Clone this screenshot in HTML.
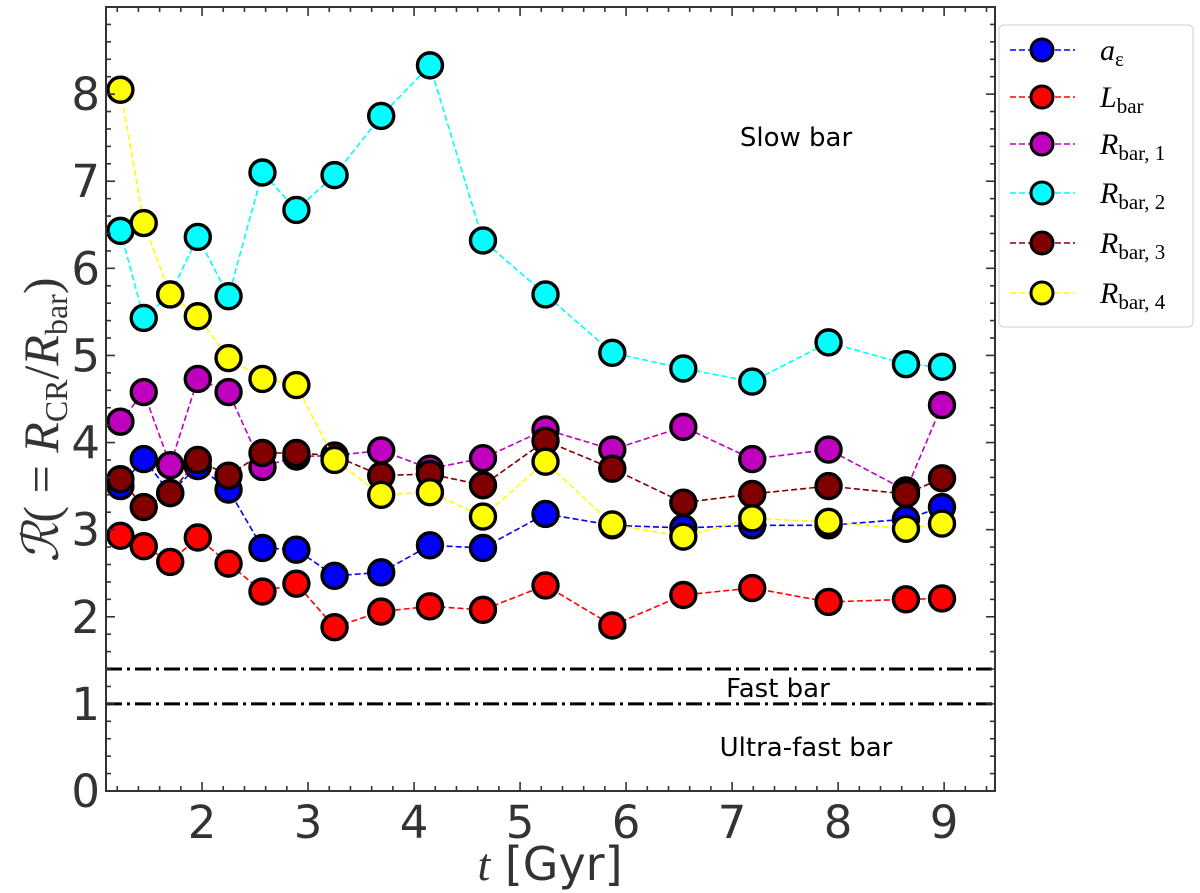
<!DOCTYPE html>
<html><head><meta charset="utf-8"><style>
html,body{margin:0;padding:0;background:#fff;}
svg{display:block;font-family:"DejaVu Sans","Liberation Sans",sans-serif;}
</style></head><body>
<svg id="chart" width="1200" height="893" viewBox="0 0 1200 893" xmlns="http://www.w3.org/2000/svg">
<g id="plot"></g>
<g id="axes"></g>
<g id="legend"></g>
</svg>
<script>
const times = [1.23,1.45,1.70,1.96,2.25,2.57,2.89,3.25,3.69,4.15,4.65,5.24,5.87,6.54,7.19,7.91,8.64,8.98];
const aEps = [3.50,3.81,3.42,3.73,3.46,2.79,2.77,2.47,2.51,2.82,2.79,3.18,3.05,3.02,3.05,3.05,3.12,3.26];
const lBar = [2.93,2.81,2.63,2.91,2.61,2.29,2.38,1.88,2.06,2.12,2.08,2.36,1.90,2.25,2.33,2.17,2.20,2.21];
const rBar1 = [4.24,4.58,3.74,4.73,4.58,3.72,3.84,3.85,3.91,3.70,3.82,4.15,3.92,4.18,3.81,3.92,3.45,4.43];
const rBar2 = [6.43,5.43,5.70,6.36,5.68,7.10,6.67,7.07,7.75,8.33,6.32,5.70,5.03,4.85,4.70,5.15,4.90,4.87];
const rBar3 = [3.58,3.26,3.42,3.80,3.62,3.88,3.88,3.85,3.62,3.64,3.51,4.02,3.70,3.31,3.41,3.50,3.41,3.59];
const rBar4 = [8.05,6.52,5.70,5.45,4.97,4.73,4.66,3.80,3.40,3.43,3.15,3.78,3.06,2.92,3.13,3.09,3.01,3.07];
const xTicks = [2,3,4,5,6,7,8,9];
const yTicks = [0,1,2,3,4,5,6,7,8];
const thresholds = [1.0,1.4];

const NS="http://www.w3.org/2000/svg";
const L=106,R=995,T=7,B=791,XMIN=1.094,XMAX=9.48,YMIN=0,YMAX=9;
const sx=v=>L+(v-XMIN)/(XMAX-XMIN)*(R-L);
const sy=v=>B-(v-YMIN)/(YMAX-YMIN)*(B-T);
function mk(tag,attrs,parent){const e=document.createElementNS(NS,tag);for(const k in attrs)e.setAttribute(k,attrs[k]);parent.appendChild(e);return e;}
const plot=document.getElementById('plot'),axes=document.getElementById('axes'),leg=document.getElementById('legend');

thresholds.forEach(t=>{
  const ln=mk('line',{x1:L,x2:R,y1:sy(t),y2:sy(t),stroke:'#000','stroke-width':3,'stroke-dasharray':'16 5 3 5'},plot);
  
  
});
[['Slow bar',796,146],['Fast bar',778,697],['Ultra-fast bar',806,756]].forEach(a=>{
  const t=mk('text',{x:a[1],y:a[2],'font-size':26,'text-anchor':'middle',fill:'#000'},plot);t.textContent=a[0];
  
  
});

const series=[
 {name:'a-epsilon',vals:aEps,col:'#0000ff'},
 {name:'l-bar',vals:lBar,col:'#ff0000'},
 {name:'r-bar-1',vals:rBar1,col:'#bf00bf'},
 {name:'r-bar-2',vals:rBar2,col:'#00ffff'},
 {name:'r-bar-3',vals:rBar3,col:'#800000'},
 {name:'r-bar-4',vals:rBar4,col:'#ffff00'}];
series.forEach(s=>{
  const g=mk('g',{},plot);
  
  
  const pts=s.vals.map((v,i)=>sx(times[i])+','+sy(v)).join(' ');
  const pl=mk('polyline',{points:pts,fill:'none',stroke:s.col,'stroke-width':1.6,'stroke-dasharray':'6 3'},g);
  
  
  s.vals.forEach((v,i)=>{
    const c=mk('circle',{cx:sx(times[i]),cy:sy(v),r:12.5,fill:s.col,stroke:'#000','stroke-width':3.4},g);
    
    
  });
});

const fr=mk('rect',{x:L,y:T,width:R-L,height:B-T,fill:'none',stroke:'#333','stroke-width':2},axes);


for(let v=1.2;v<=9.41;v+=0.2){
  const major=Math.abs(v-Math.round(v))<1e-6;const len=major?9:5;const x=sx(v);
  mk('line',{x1:x,x2:x,y1:B,y2:B-len,stroke:'#333','stroke-width':1.6},axes);
  mk('line',{x1:x,x2:x,y1:T,y2:T+len,stroke:'#333','stroke-width':1.6},axes);
}
for(let v=0.2;v<=8.81;v+=0.2){
  const major=Math.abs(v-Math.round(v))<1e-6;const len=major?9:5;const y=sy(v);
  mk('line',{x1:L,x2:L+len,y1:y,y2:y,stroke:'#333','stroke-width':1.6},axes);
  mk('line',{x1:R,x2:R-len,y1:y,y2:y,stroke:'#333','stroke-width':1.6},axes);
}
xTicks.forEach(v=>{
  const t=mk('text',{x:sx(v),y:B+47,'font-size':45,'text-anchor':'middle',fill:'#333'},axes);t.textContent=v;
  
  
});
yTicks.forEach(v=>{
  const t=mk('text',{x:L-6,y:sy(v)+16,'font-size':45,'text-anchor':'end',fill:'#333'},axes);t.textContent=v;
  
  
});
const xl=mk('text',{x:550,y:880,'font-size':46,'text-anchor':'middle',fill:'#333'},axes);
xl.innerHTML='<tspan font-family="Liberation Serif" font-style="italic">t</tspan> [Gyr]';


const yl=mk('text',{x:0,y:0,'font-size':50,'text-anchor':'middle',fill:'#333','font-family':'Liberation Serif',transform:'translate(58,420) rotate(-90)'},axes);
yl.innerHTML='<tspan font-style="italic">ℛ</tspan>( = <tspan font-style="italic">R</tspan><tspan font-size="32" dy="9">CR</tspan><tspan dy="-9">/</tspan><tspan font-style="italic">R</tspan><tspan font-size="32" dy="9">bar</tspan><tspan dy="-9">)</tspan>';



const lb=mk('rect',{x:999,y:25,width:194,height:302,rx:5,fill:'#fff',stroke:'#ddd','stroke-width':1.5},leg);


const labels=[['a','ε'],['L','bar'],['R','bar, 1'],['R','bar, 2'],['R','bar, 3'],['R','bar, 4']];
const rowY=[50,97,144,193,243,293];
series.forEach((s,i)=>{
  const g=mk('g',{},leg);
  
  
  const y=rowY[i];
  mk('line',{x1:1010,x2:1075,y1:y,y2:y,stroke:s.col,'stroke-width':1.6,'stroke-dasharray':'6 3'},g);
  mk('circle',{cx:1042,cy:y,r:11,fill:s.col,stroke:'#000','stroke-width':3},g);
  const t=mk('text',{x:1100,y:y+10,'font-size':30,fill:'#000','font-family':'Liberation Serif'},g);
  t.innerHTML='<tspan font-style="italic">'+labels[i][0]+'</tspan><tspan font-size="21" dy="6">'+labels[i][1]+'</tspan>';
});
</script>
</body></html>
